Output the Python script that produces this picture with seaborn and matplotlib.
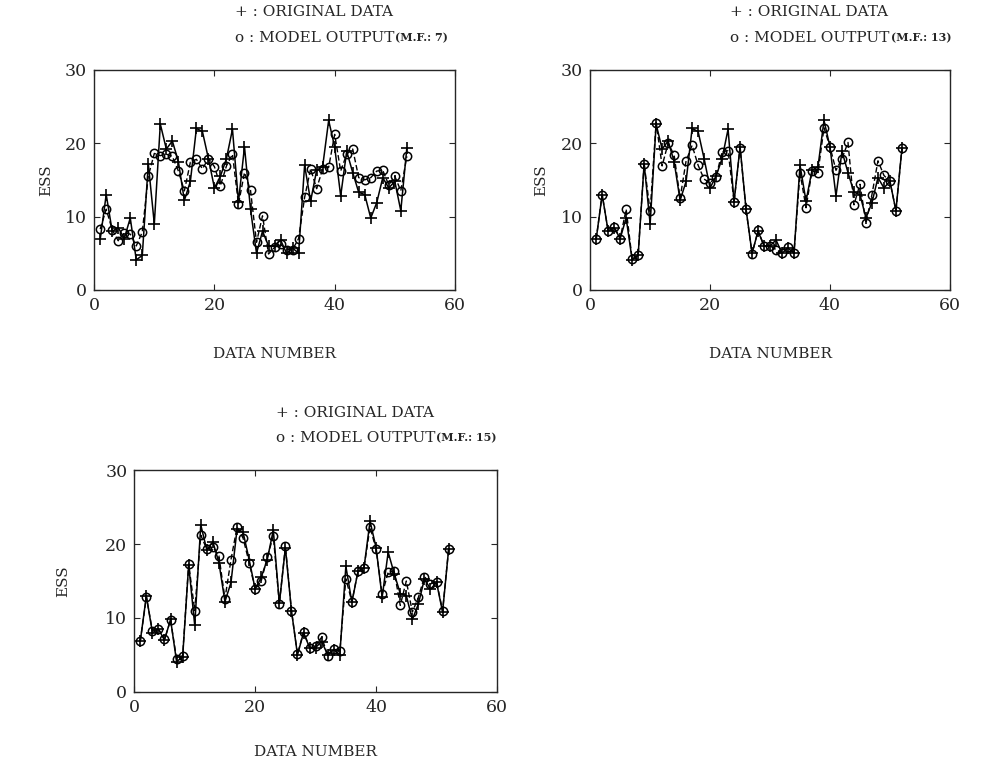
import numpy as np
import pandas as pd
import matplotlib
matplotlib.use("Agg")
import matplotlib.pyplot as plt
import seaborn as sns

sns.set_style("ticks")
plt.rcParams['font.family'] = ['DejaVu Serif']

# data number 1..52
data_number = list(range(1, 53))

# original ESS data (+)
original = [6.9, 13.0, 8.0, 8.5, 7.0, 9.8, 4.1, 4.7, 17.2, 9.0,
            22.6, 19.2, 20.3, 17.5, 12.2, 14.8, 22.0, 21.6, 17.9, 13.9,
            15.5, 17.9, 21.9, 12.0, 19.5, 11.0, 5.0, 8.0, 6.0, 6.0,
            6.8, 5.0, 5.7, 5.0, 17.0, 12.1, 16.3, 16.8, 23.1, 19.5,
            12.8, 18.9, 16.0, 13.3, 13.0, 9.8, 11.9, 15.3, 13.9, 14.8,
            10.8, 19.3]

# model output, M.F. = 7
model_mf7 = [8.3, 11.0, 8.2, 6.7, 7.8, 7.6, 6.0, 7.9, 15.5, 18.6,
             18.3, 18.5, 18.2, 16.2, 13.5, 17.4, 17.8, 16.5, 17.9, 16.8,
             14.2, 16.9, 18.5, 11.7, 16.0, 13.6, 6.5, 10.1, 4.9, 5.8,
             6.2, 5.5, 5.5, 7.0, 12.6, 16.5, 13.8, 16.5, 16.7, 21.2,
             16.2, 18.5, 19.2, 15.3, 15.0, 15.3, 16.2, 16.3, 14.3, 15.5,
             13.5, 18.2]

# model output, M.F. = 13
model_mf13 = [6.9, 13.0, 8.0, 8.6, 7.0, 11.0, 4.2, 4.8, 17.2, 10.7,
              22.8, 16.9, 20.0, 18.4, 12.5, 17.6, 19.7, 17.0, 15.1, 14.6,
              15.4, 18.8, 19.0, 12.0, 19.4, 11.0, 4.9, 8.1, 6.0, 6.0,
              5.5, 5.0, 5.8, 5.1, 16.0, 11.2, 16.2, 16.0, 22.1, 19.5,
              16.3, 17.9, 20.1, 11.6, 14.4, 9.1, 13.0, 17.6, 15.6, 14.8,
              10.8, 19.3]

# model output, M.F. = 15
model_mf15 = [6.9, 12.8, 8.3, 8.5, 7.1, 9.7, 4.5, 4.9, 17.3, 11.0,
              21.2, 19.3, 19.6, 18.4, 12.6, 17.9, 22.3, 20.8, 17.5, 13.9,
              15.0, 18.2, 21.1, 11.9, 19.7, 11.0, 5.1, 8.1, 6.0, 6.2,
              7.4, 4.9, 5.8, 5.5, 15.3, 12.2, 16.3, 16.8, 22.3, 19.3,
              13.2, 16.2, 16.3, 11.7, 15.0, 10.8, 12.8, 15.6, 14.6, 14.9,
              11.0, 19.3]

mf_labels = ["7", "13", "15"]
x_ticks = [0, 20, 40, 60]
y_ticks = [0, 10, 20, 30]

fig = plt.figure(figsize=(10.02, 7.67), dpi=100)

# axes boxes in figure fraction
boxes = [[0.094, 0.622, 0.360, 0.287],
         [0.589, 0.622, 0.359, 0.287],
         [0.134, 0.098, 0.362, 0.289]]
models = [model_mf7, model_mf13, model_mf15]
ylab_pad = [8.5, 9.5, 25.5]
xlab_pad = [24, 24, 21]

for box, model, mf, yp, xp in zip(boxes, models, mf_labels, ylab_pad, xlab_pad):
    ax = fig.add_axes(box)
    df = pd.DataFrame({"n": data_number, "orig": original, "model": model})
    sns.lineplot(data=df, x="n", y="orig", ax=ax, color="black", lw=1.1,
                 marker="+", markersize=9, markeredgewidth=1.2,
                 markeredgecolor="black")
    sns.lineplot(data=df, x="n", y="model", ax=ax, color="black", lw=1.0,
                 linestyle=(0, (4, 2)), marker="o", markersize=6,
                 markerfacecolor="none", markeredgecolor="black",
                 markeredgewidth=1.1)
    ax.set_xlim(0, 60)
    ax.set_ylim(0, 30)
    ax.set_xticks(x_ticks)
    ax.set_yticks(y_ticks)
    ax.tick_params(direction="in", length=4, width=0.8, labelsize=12.5,
                   top=True, right=True, pad=5)
    for s in ax.spines.values():
        s.set_linewidth(1.0)
    ax.set_xlabel("DATA NUMBER", fontsize=11, labelpad=xp)
    ax.set_ylabel("ESS", fontsize=11, labelpad=yp)

    # legend-like header above the axes
    x0 = box[0] + box[2] * 0.39
    ytop = box[1] + box[3]
    fig.text(x0, ytop + 0.075, "+ : ORIGINAL DATA", fontsize=11,
             ha="left", va="center")
    t = fig.text(x0, ytop + 0.042, "o : MODEL OUTPUT", fontsize=11,
                 ha="left", va="center")
    fig.canvas.draw()
    bb = t.get_window_extent().transformed(fig.transFigure.inverted())
    fig.text(bb.x1 + 0.001, ytop + 0.042, "(M.F.: " + mf + ")",
             fontsize=8, fontweight="bold", ha="left", va="center")

fig.savefig("out.png", dpi=100)
